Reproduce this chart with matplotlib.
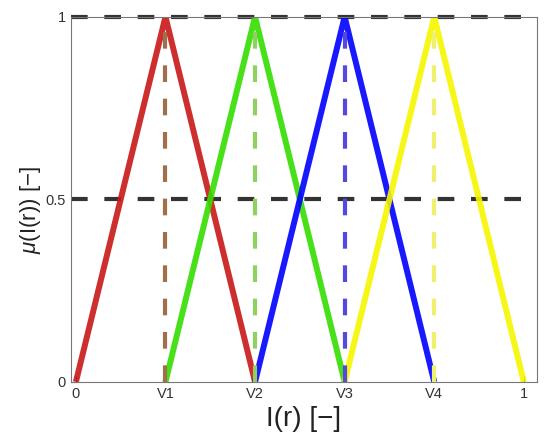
import numpy as np
import matplotlib
matplotlib.use("Agg")
import matplotlib.pyplot as plt

plt.rcParams['font.family'] = ['Liberation Sans', 'DejaVu Sans']
plt.rcParams['mathtext.fontset'] = 'custom'
plt.rcParams['mathtext.it'] = 'Liberation Sans:italic'
plt.rcParams['mathtext.rm'] = 'Liberation Sans'

# data
tick_pos = [0, 0.2, 0.4, 0.6, 0.8, 1.0]
tick_labels = ["0", "V1", "V2", "V3", "V4", "1"]
tri_x = [[0, 0.2, 0.4], [0.2, 0.4, 0.6], [0.4, 0.6, 0.8], [0.6, 0.8, 1.0]]
tri_y = [0, 1, 0]
centers = [0.2, 0.4, 0.6, 0.8]
levels = [0.5, 1.0]

tri_colors = ["#c81818", "#33dd00", "#0000ff", "#f5f500"]
vline_colors = ["#a0704c", "#90d060", "#5548e0", "#f0f070"]

fig = plt.figure(figsize=(5.5, 4.42), dpi=100)
ax = fig.add_axes([0.129, 0.136, 0.847, 0.826])

for lv in levels:
    ax.plot([-0.011, 1.029], [lv, lv], color="#333333", lw=3, ls=(0, (4, 4)),
            zorder=1, clip_on=False)

for xs, c in zip(tri_x, tri_colors):
    ax.plot(xs, tri_y, color=c, lw=4.3, alpha=0.9, solid_capstyle='butt', zorder=2)

for cx, c in zip(centers, vline_colors):
    ax.plot([cx, cx], [0, 1], color=c, lw=3, ls=(0, (4, 4)), zorder=3)

ax.set_xlim(-0.011, 1.029)
ax.set_ylim(0, 1.0)
ax.set_xticks(tick_pos)
ax.set_xticklabels(tick_labels)
ax.set_yticks([0, 0.5, 1])
ax.set_yticklabels(["0", "0.5", "1"])
ax.tick_params(direction='in', labelsize=10.5, colors="#333333", length=4)
for s in ax.spines.values():
    s.set_color("#777777")
    s.set_linewidth(0.8)

ax.set_xlabel("I(r) [\u2212]", fontsize=20, color="#222222", labelpad=4)
ax.set_ylabel("$\\mu$(I(r)) [\u2212]", fontsize=16, color="#222222")
ax.yaxis.set_label_coords(-0.061, 0.47)

fig.savefig("out.png", dpi=100)
